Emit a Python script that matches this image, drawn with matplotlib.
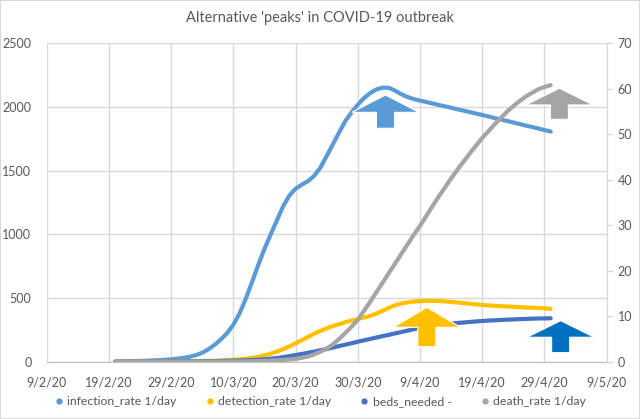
import matplotlib
matplotlib.use('Agg')
import matplotlib.pyplot as plt
import matplotlib.dates as mdates
import numpy as np
from matplotlib.patches import Polygon, Rectangle
from matplotlib.lines import Line2D

plt.rcParams['font.family'] = ['Lato', 'DejaVu Sans']

# daily values, 20/2/20 .. 30/4/20
first_day = np.datetime64('2020-02-20')
infection = [2, 3, 4, 5, 6, 8, 10, 12, 15, 19,
             24, 30, 39, 52, 70, 98, 133, 175, 225, 290,
             380, 495, 625, 760, 885, 1000, 1110, 1220, 1305, 1358,
             1390, 1418, 1460, 1525, 1615, 1708, 1800, 1890, 1958, 2018,
             2070, 2110, 2138, 2152, 2150, 2128, 2100, 2078, 2062, 2050,
             2039, 2028, 2016, 2005, 1994, 1982, 1971, 1960, 1948, 1937,
             1925, 1913, 1901, 1890, 1878, 1866, 1854, 1843, 1831, 1819,
             1807]
detection = [0, 0, 0, 1, 1, 1, 1, 2, 2, 2,
             3, 3, 4, 5, 6, 7, 8, 10, 12, 15,
             19, 24, 30, 39, 50, 63, 79, 98, 120, 144,
             170, 195, 220, 242, 262, 280, 295, 310, 323, 335,
             347, 360, 378, 400, 423, 443, 457, 466, 472, 476,
             478, 478, 477, 473, 469, 465, 460, 455, 450, 446,
             442, 439, 436, 434, 431, 428, 426, 424, 421, 419,
             415]
beds = [0, 0, 0, 0, 1, 1, 1, 1, 1, 2,
        2, 2, 3, 3, 4, 4, 5, 6, 7, 8,
        9, 11, 13, 16, 19, 24, 29, 36, 44, 52,
        61, 70, 80, 90, 100, 111, 123, 134, 145, 157,
        168, 179, 190, 201, 211, 222, 233, 244, 255, 265,
        274, 282, 288, 294, 299, 304, 308, 312, 316, 320,
        323, 325, 328, 330, 332, 334, 336, 338, 339, 340,
        341]
death = [0, 0, 0, 0, 0, 0, 0, 0, 0, 0,
         0.01, 0.01, 0.01, 0.02, 0.02, 0.03, 0.03, 0.04, 0.05, 0.06,
         0.07, 0.09, 0.11, 0.14, 0.18, 0.23, 0.3, 0.38, 0.48, 0.6,
         0.85, 1.15, 1.6, 2.2, 2.9, 3.8, 5.0, 6.3, 7.7, 9.2,
         11.2, 13.2, 15.3, 17.4, 19.5, 21.6, 23.7, 25.8, 27.9, 29.9,
         32.0, 34.2, 36.3, 38.3, 40.3, 42.2, 44.0, 45.8, 47.5, 49.2,
         50.7, 52.2, 53.6, 55.0, 56.2, 57.3, 58.3, 59.1, 59.9, 60.4,
         60.8]

labels = ['infection_rate 1/day', 'detection_rate 1/day', 'beds_needed -', 'death_rate 1/day']
colors = ['#5B9BD5', '#FFC000', '#4472C4', '#A5A5A5']

axis_start = np.datetime64('2020-02-09')
axis_end = np.datetime64('2020-05-09')
tick_labels = ['9/2/20', '19/2/20', '29/2/20', '10/3/20', '20/3/20',
               '30/3/20', '9/4/20', '19/4/20', '29/4/20', '9/5/20']

# block arrows (days after 9/2, left-axis values)
arrow_day = [54.45, 61.1, 82.6, 82.4]
arrow_tip = [2094, 427, 322, 2147]
arrow_neck = [1958, 270, 192, 2016]
arrow_tail = [1833, 118, 71, 1903]
arrow_colors = ['#5B9BD5', '#FFC000', '#0070C0', '#A5A5A5']
head_half = 5.4
shaft_half = 1.45

text_col = '#595959'
grid_col = '#D9D9D9'

dates = first_day + np.arange(len(infection))

fig = plt.figure(figsize=(6.4, 4.19), dpi=100)
ax = fig.add_axes([46.7 / 640, 1 - 361.7 / 419, 560 / 640, 318.4 / 419])
ax2 = ax.twinx()

ax.plot(dates, infection, color=colors[0], lw=3, solid_capstyle='round', solid_joinstyle='round')
ax.plot(dates, detection, color=colors[1], lw=3, solid_capstyle='round', solid_joinstyle='round')
ax.plot(dates, beds, color=colors[2], lw=3, solid_capstyle='round', solid_joinstyle='round')
ax2.plot(dates, death, color=colors[3], lw=3, solid_capstyle='round', solid_joinstyle='round')

ax.set_xlim(axis_start, axis_end)
ax.set_ylim(0, 2500)
ax2.set_ylim(0, 70)
ticks = np.arange(axis_start, axis_end + 1, 10)
ax.set_xticks(ticks)
ax.set_xticklabels(tick_labels)
ax.set_yticks(np.arange(0, 2501, 500))
ax2.set_yticks(np.arange(0, 71, 10))

ax.grid(True, color=grid_col, lw=1)
ax.set_axisbelow(True)
for s in ['left', 'top', 'right']:
    ax.spines[s].set_visible(False)
ax.spines['bottom'].set_color('#BFBFBF')
for s in ['left', 'top', 'bottom']:
    ax2.spines[s].set_visible(False)
ax2.spines['right'].set_color(grid_col)

ax.tick_params(axis='x', length=0, pad=11, labelsize=9, labelcolor=text_col)
ax.tick_params(axis='y', length=0, pad=11, labelsize=9, labelcolor=text_col)
ax2.tick_params(axis='y', length=4, width=1, color=grid_col, pad=4,
                labelsize=9, labelcolor=text_col)

# arrows
x0 = mdates.date2num(axis_start)
for d, tip, neck, tail, c in zip(arrow_day, arrow_tip, arrow_neck, arrow_tail, arrow_colors):
    cx = x0 + d
    pts = [(cx, tip), (cx + head_half, neck), (cx + shaft_half, neck),
           (cx + shaft_half, tail), (cx - shaft_half, tail), (cx - shaft_half, neck),
           (cx - head_half, neck)]
    ax2.add_patch(Polygon(pts, closed=True, facecolor=c, edgecolor='white', lw=0.8,
                          transform=ax.transData, clip_on=False, zorder=5))

fig.text(0.5, 1 - 18 / 419, "Alternative 'peaks' in COVID-19 outbreak",
         ha='center', va='center', fontsize=10.5, color=text_col)

handles = [Line2D([], [], ls='none', marker='o', ms=3.5, color=c) for c in colors]
fig.legend(handles, labels, loc='center', bbox_to_anchor=(0.5, 1 - 401.7 / 419),
           ncol=4, frameon=False, fontsize=8.8, handlelength=0.8, handletextpad=0.3,
           columnspacing=2.3, labelcolor=text_col)

fig.patches.append(Rectangle((0, 0), 1, 1, transform=fig.transFigure, fill=False,
                             edgecolor=grid_col, lw=1.5))

fig.savefig('out.png', dpi=100)
